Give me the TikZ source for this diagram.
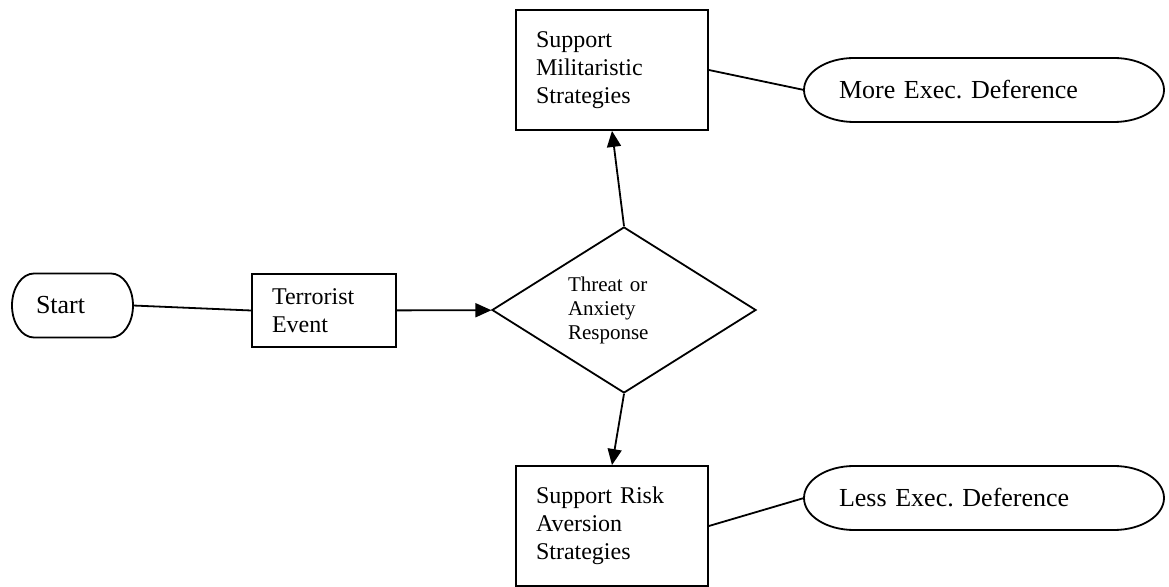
\documentclass[tikz,border=0pt]{standalone}
\usepackage{fontspec}
\setmainfont{Liberation Serif}
\usetikzlibrary{positioning}
\usetikzlibrary{shapes.geometric}
\usetikzlibrary{arrows.meta}

\begin{document}
\frenchspacing
\begin{tikzpicture}[
    x = 0.5pt, y = -0.5pt, line width = 0.9pt, >={Triangle[length = 8pt, width = 7pt]},
    term/.style = {shape = rectangle, align = left, outer sep = 0pt, minimum height = 32pt, font = \fontsize{13}{15}\selectfont,
        append after command = {\pgfextra{\draw ([xshift = #1]\tikzlastnode.north west) -- ([xshift = -#1]\tikzlastnode.north east)
            arc[start angle = 90, end angle = -90, x radius = #1, y radius = 16pt] -- ([xshift = #1]\tikzlastnode.south west)
            arc[start angle = 270, end angle = 90, x radius = #1, y radius = 16pt] -- cycle;}}},
    term/.default = 25pt,
    proc/.style = {shape = rectangle, draw, align = left, inner xsep = 10pt, font = \fontsize{12}{14}\selectfont},
    decis/.style = {shape = diamond, draw, aspect = 1.6, inner sep = 0pt, minimum width = 132pt, minimum height = 83pt, text width = 56pt, align = left, font = \fontsize{10.5}{12}\selectfont},
    ]
    \useasboundingbox (0,0) rectangle (1169,587);
    \node[term = 11pt, minimum width = 60.5pt, inner xsep = 12pt, text width = 36.5pt] (A) at (72.5,305.5) {Start};
    \node[proc, minimum height = 36.5pt, text width = 52pt] (B) at (324,310.5) {Terrorist\\Event};
    \node[decis] (C) at (624,310) {Threat or\\Anxiety\\Response};
    \node[proc, minimum height = 60pt, text width = 76pt] (D) at (612,70) {Support\\Militaristic\\Strategies};
    \node[term, minimum width = 180pt, inner xsep = 17.5pt, text width = 145pt] (E) at (984,90) {More Exec. Deference};
    \node[proc, minimum height = 60pt, text width = 76pt] (F) at (612,526) {Support Risk\\Aversion\\Strategies};
    \node[term, minimum width = 180pt, inner xsep = 17.5pt, text width = 145pt] (G) at (984,498) {Less Exec. Deference};

    \path (A.east) edge (B.west);
    \path[->] (B) edge (C);
    \path[->] (C.north) edge (D.south);
    \path[->] (C.south) edge (F.north);
    \path (D.east) edge (E.west);
    \path (F.east) edge (G.west);
\end{tikzpicture}
\end{document}
